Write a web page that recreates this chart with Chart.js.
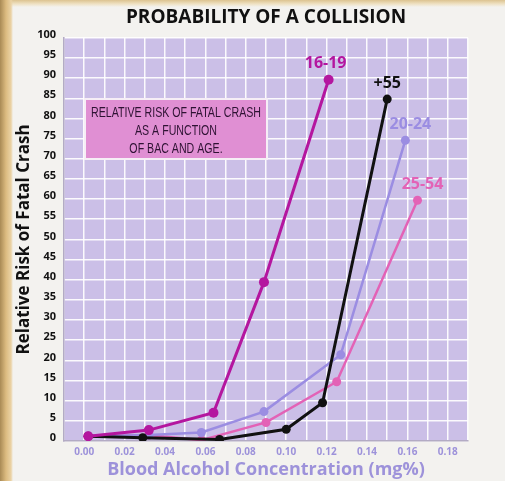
<!DOCTYPE html>
<html>
<head>
<meta charset="utf-8">
<script src="https://cdn.jsdelivr.net/npm/chart.js@4"></script>
<style>
  html, body { margin: 0; padding: 0; }
  body {
    width: 505px; height: 481px; overflow: hidden;
    background:
      linear-gradient(to right, #a98a55 0px, #dcbb80 6px, #ead2a4 11px, rgba(243,242,239,0) 13px),
      linear-gradient(to bottom, #dcc390 0px, #efe2c4 4px, #f3f2ef 7px);
  }
  #wrap { position: relative; width: 505px; height: 481px; }
</style>
</head>
<body>
<div id="wrap"><canvas id="chart" width="505" height="481"></canvas></div>
<script>
// Probability of a collision — relative risk vs BAC, by age group
const FONT = "'Open Sans', 'DejaVu Sans', sans-serif";
const PLOT_BG = '#cbbfe7';
const AXIS_LAV = '#9d92da';

const GROUPS = ['16-19', '+55', '20-24', '25-54'];
const COLORS = ['#b4169f', '#111111', '#9b8de2', '#e362b6'];

// BAC (x) and relative risk (y)
const bac1619 = [0.002, 0.032, 0.064, 0.089, 0.121];
const risk1619 = [1.2, 2.7, 7.0, 39.4, 89.6];

const bac55 = [0.002, 0.029, 0.067, 0.100, 0.118, 0.150];
const risk55 = [1.2, 0.8, 0.4, 2.9, 9.5, 84.8];

const bac2024 = [0.002, 0.032, 0.058, 0.089, 0.127, 0.159];
const risk2024 = [1.2, 1.5, 2.1, 7.3, 21.4, 74.6];

const bac2554 = [0.002, 0.032, 0.058, 0.090, 0.125, 0.165];
const risk2554 = [1.2, 1.5, 0.2, 4.6, 14.7, 59.7];

const NOTE_LINES = ['RELATIVE RISK OF FATAL CRASH', 'AS A FUNCTION', 'OF BAC AND AGE.'];

const seriesX = [bac1619, bac55, bac2024, bac2554];
const seriesY = [risk1619, risk55, risk2024, risk2554];

const datasets = GROUPS.map((g, i) => ({
  label: g,
  data: seriesX[i].map((x, k) => ({ x, y: seriesY[i][k] })),
  borderColor: COLORS[i],
  backgroundColor: COLORS[i],
  borderWidth: i < 2 ? 3 : 2.5,
  pointRadius: i === 0 ? 5 : 4.5,
  pointBorderWidth: 0,
  tension: 0,
}));
// draw magenta on top
datasets[0].order = -1;

const plotBg = {
  id: 'plotBg',
  beforeDraw(chart) {
    const { ctx, chartArea: a } = chart;
    ctx.save();
    ctx.fillStyle = PLOT_BG;
    ctx.fillRect(a.left, a.top, a.right - a.left, a.bottom - a.top);
    ctx.restore();
  },
};

// note box + group labels at the end of each line
const extras = {
  id: 'extras',
  beforeDatasetsDraw(chart) {
    const ctx = chart.ctx;
    ctx.save();
    ctx.fillStyle = '#f6eef6';
    ctx.fillRect(84, 98, 184, 62);
    ctx.fillStyle = '#e08fd3';
    ctx.fillRect(86, 100, 180, 58);
    ctx.fillStyle = '#2e1233';
    ctx.font = "15px 'Liberation Sans', sans-serif";
    ctx.textAlign = 'center';
    ctx.textBaseline = 'middle';
    // condensed look: squeeze horizontally so the first line is ~170px wide
    const squeeze = 170 / ctx.measureText(NOTE_LINES[0]).width;
    ctx.translate(176, 0);
    ctx.scale(squeeze, 1);
    NOTE_LINES.forEach((t, i) => ctx.fillText(t, 0, 113 + i * 18));
    ctx.restore();
  },
  afterDatasetsDraw(chart) {
    const ctx = chart.ctx;
    const dx = [-3, 0, 5, 5];
    ctx.save();
    ctx.font = 'bold 16px ' + FONT;
    ctx.textAlign = 'center';
    ctx.textBaseline = 'middle';
    chart.data.datasets.forEach((ds, i) => {
      const pts = chart.getDatasetMeta(i).data;
      const p = pts[pts.length - 1];
      ctx.fillStyle = COLORS[i];
      ctx.fillText(ds.label, p.x + dx[i], p.y - 16);
    });
    ctx.restore();
  },
};

new Chart(document.getElementById('chart'), {
  type: 'line',
  data: { datasets },
  options: {
    responsive: false,
    animation: false,
    layout: { padding: { left: 14, right: 37, top: 0, bottom: 0 } },
    plugins: {
      legend: { display: false },
      tooltip: { enabled: false },
      title: {
        display: true,
        fullSize: false,
        text: 'PROBABILITY OF A COLLISION',
        color: '#111',
        font: { family: FONT, size: 19, weight: 'bold' },
        padding: { top: 6, bottom: 9 },
      },
    },
    scales: {
      x: {
        type: 'linear',
        min: -0.01,
        max: 0.19,
        afterFit(s) { s.height = 40; },
        border: { color: '#b3abc4', width: 1.5 },
        grid: { color: 'rgba(255,255,255,0.92)', lineWidth: 1.5, drawTicks: false },
        ticks: {
          stepSize: 0.01,
          autoSkip: false,
          maxRotation: 0,
          padding: 5,
          color: AXIS_LAV,
          font: { family: FONT, size: 10, weight: 'bold' },
          callback: v => {
            const n = Math.round(v * 100);
            return n >= 0 && n % 2 === 0 ? (n / 100).toFixed(2) : '';
          },
        },
        title: {
          display: true,
          text: 'Blood Alcohol Concentration (mg%)',
          color: AXIS_LAV,
          font: { family: FONT, size: 18, weight: 'bold' },
          padding: { top: 0, bottom: 0 },
        },
      },
      y: {
        min: 0,
        max: 100,
        afterFit(s) { s.width = 50; },
        border: { color: '#b3abc4', width: 1.5 },
        grid: { color: 'rgba(255,255,255,0.92)', lineWidth: 1.5, drawTicks: false },
        ticks: {
          stepSize: 5,
          padding: 8,
          labelOffset: -3,
          color: '#111',
          font: { family: FONT, size: 11, weight: 'bold' },
        },
        title: {
          display: true,
          text: 'Relative Risk of Fatal Crash',
          color: '#111',
          font: { family: FONT, size: 17, weight: 'bold' },
          padding: { top: 0, bottom: 1 },
        },
      },
    },
  },
  plugins: [plotBg, extras],
});
</script>
</body>
</html>
